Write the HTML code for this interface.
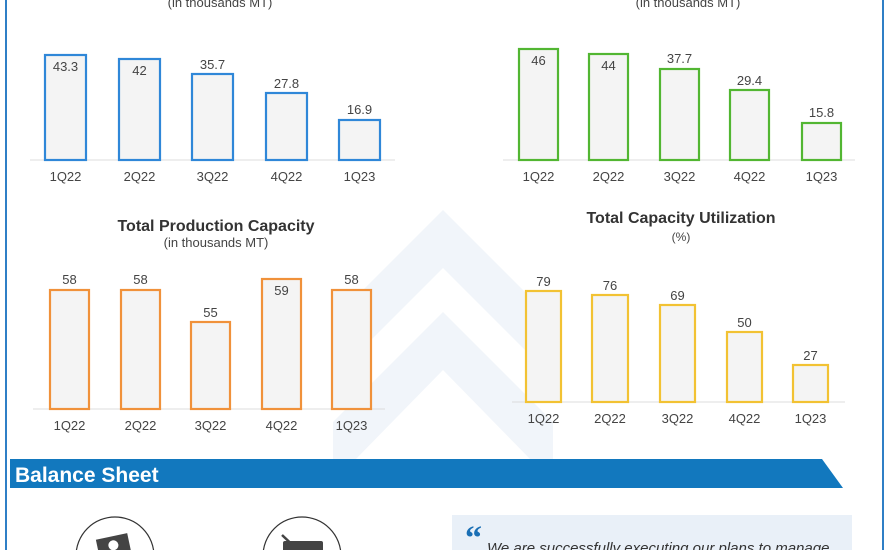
<!DOCTYPE html>
<html>
<head>
<meta charset="utf-8">
<style>
html,body{margin:0;padding:0;background:#fff;width:890px;height:550px;overflow:hidden;}
body{position:relative;font-family:"Liberation Sans",sans-serif;}
svg{position:absolute;left:0;top:0;display:block;}
</style>
</head>
<body>
<svg width="890" height="550" viewBox="0 0 890 550" xmlns="http://www.w3.org/2000/svg" font-family="Liberation Sans, sans-serif" overflow="hidden">
  <!-- watermark chevrons -->
  <g fill="#f1f5fa">
    <polygon points="443,210 553,320 553,378 443,268 333,378 333,320"/>
    <polygon points="443,312 553,422 553,459 530,459 443,370 356,459 333,459 333,422"/>
  </g>

  <!-- side borders -->
  <rect x="5" y="0" width="2" height="550" fill="#2f7fc6"/>
  <rect x="882" y="0" width="2" height="550" fill="#2f7fc6"/>

  <!-- Chart 1 -->
  <text x="220" y="7" font-size="13" fill="#444" text-anchor="middle">(in thousands MT)</text>
  <line x1="30" y1="160" x2="395" y2="160" stroke="#dcdcdc" stroke-width="1"/>
  <g fill="#f4f4f4" stroke="#2f87d8" stroke-width="2.2">
    <rect x="45" y="55" width="41" height="105"/>
    <rect x="119" y="59" width="41" height="101"/>
    <rect x="192" y="74" width="41" height="86"/>
    <rect x="266" y="93" width="41" height="67"/>
    <rect x="339" y="120" width="41" height="40"/>
  </g>
  <g font-size="13" fill="#444" text-anchor="middle">
    <text x="65.5" y="71">43.3</text>
    <text x="139.5" y="75">42</text>
    <text x="212.5" y="69">35.7</text>
    <text x="286.5" y="88">27.8</text>
    <text x="359.5" y="114">16.9</text>
    <text x="65.5" y="181">1Q22</text>
    <text x="139.5" y="181">2Q22</text>
    <text x="212.5" y="181">3Q22</text>
    <text x="286.5" y="181">4Q22</text>
    <text x="359.5" y="181">1Q23</text>
  </g>

  <!-- Chart 2 -->
  <text x="688" y="7" font-size="13" fill="#444" text-anchor="middle">(in thousands MT)</text>
  <line x1="503" y1="160" x2="855" y2="160" stroke="#dcdcdc" stroke-width="1"/>
  <g fill="#f4f4f4" stroke="#52b632" stroke-width="2.2">
    <rect x="519" y="49" width="39" height="111"/>
    <rect x="589" y="54" width="39" height="106"/>
    <rect x="660" y="69" width="39" height="91"/>
    <rect x="730" y="90" width="39" height="70"/>
    <rect x="802" y="123" width="39" height="37"/>
  </g>
  <g font-size="13" fill="#444" text-anchor="middle">
    <text x="538.5" y="65">46</text>
    <text x="608.5" y="70">44</text>
    <text x="679.5" y="63">37.7</text>
    <text x="749.5" y="85">29.4</text>
    <text x="821.5" y="117">15.8</text>
    <text x="538.5" y="181">1Q22</text>
    <text x="608.5" y="181">2Q22</text>
    <text x="679.5" y="181">3Q22</text>
    <text x="749.5" y="181">4Q22</text>
    <text x="821.5" y="181">1Q23</text>
  </g>

  <!-- Chart 3 -->
  <text x="216" y="231" font-size="16" font-weight="bold" fill="#333" text-anchor="middle">Total Production Capacity</text>
  <text x="216" y="247" font-size="13" fill="#444" text-anchor="middle">(in thousands MT)</text>
  <line x1="33" y1="409" x2="385" y2="409" stroke="#dcdcdc" stroke-width="1"/>
  <g fill="#f4f4f4" stroke="#f0913a" stroke-width="2.2">
    <rect x="50" y="290" width="39" height="119"/>
    <rect x="121" y="290" width="39" height="119"/>
    <rect x="191" y="322" width="39" height="87"/>
    <rect x="262" y="279" width="39" height="130"/>
    <rect x="332" y="290" width="39" height="119"/>
  </g>
  <g font-size="13" fill="#444" text-anchor="middle">
    <text x="69.5" y="284">58</text>
    <text x="140.5" y="284">58</text>
    <text x="210.5" y="317">55</text>
    <text x="281.5" y="295">59</text>
    <text x="351.5" y="284">58</text>
    <text x="69.5" y="430">1Q22</text>
    <text x="140.5" y="430">2Q22</text>
    <text x="210.5" y="430">3Q22</text>
    <text x="281.5" y="430">4Q22</text>
    <text x="351.5" y="430">1Q23</text>
  </g>

  <!-- Chart 4 -->
  <text x="681" y="223" font-size="16" font-weight="bold" fill="#333" text-anchor="middle">Total Capacity Utilization</text>
  <text x="681" y="241" font-size="12" fill="#444" text-anchor="middle">(%)</text>
  <line x1="512" y1="402" x2="845" y2="402" stroke="#dcdcdc" stroke-width="1"/>
  <g fill="#f4f4f4" stroke="#f2c233" stroke-width="2.2">
    <rect x="526" y="291" width="35" height="111"/>
    <rect x="592" y="295" width="36" height="107"/>
    <rect x="660" y="305" width="35" height="97"/>
    <rect x="727" y="332" width="35" height="70"/>
    <rect x="793" y="365" width="35" height="37"/>
  </g>
  <g font-size="13" fill="#444" text-anchor="middle">
    <text x="543.5" y="286">79</text>
    <text x="610" y="290">76</text>
    <text x="677.5" y="300">69</text>
    <text x="744.5" y="327">50</text>
    <text x="810.5" y="360">27</text>
    <text x="543.5" y="423">1Q22</text>
    <text x="610" y="423">2Q22</text>
    <text x="677.5" y="423">3Q22</text>
    <text x="744.5" y="423">4Q22</text>
    <text x="810.5" y="423">1Q23</text>
  </g>

  <!-- Balance Sheet banner -->
  <polygon points="10,459 822,459 843,488 10,488" fill="#1278be"/>
  <text x="15" y="482" font-size="21" font-weight="bold" fill="#fff">Balance Sheet</text>

  <!-- circles with icons -->
  <circle cx="115" cy="556" r="39" fill="#fff" stroke="#333" stroke-width="1.2"/>
  <g transform="rotate(-12 115 548)">
    <rect x="98" y="536" width="32" height="18" fill="#444"/>
    <circle cx="114" cy="545" r="5" fill="#fff"/>
  </g>
  <circle cx="302" cy="556" r="39" fill="#fff" stroke="#333" stroke-width="1.2"/>
  <rect x="283" y="541" width="40" height="14" rx="2" fill="#444"/>
  <line x1="282" y1="535" x2="300" y2="552" stroke="#444" stroke-width="2.5"/>

  <!-- quote box -->
  <rect x="452" y="515" width="400" height="40" fill="#e9f0f8"/>
  <text x="465" y="549" font-size="34" font-weight="bold" fill="#1a6fb5" font-family="Liberation Serif, serif">“</text>
  <text x="487" y="553" font-size="15" font-style="italic" fill="#333">We are successfully executing our plans to manage</text>
</svg>
</body>
</html>
